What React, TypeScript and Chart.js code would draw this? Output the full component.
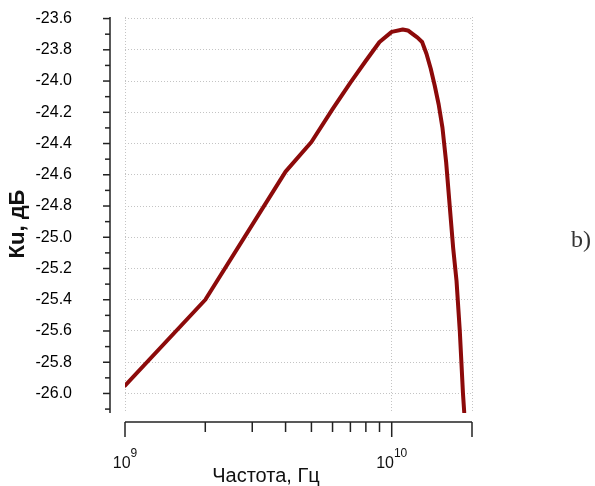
import React, { useEffect, useRef } from 'react';
import { Chart, registerables } from 'chart.js';

Chart.register(...registerables);

// Data
const freqHz = [
  1e9, 2e9, 4e9, 5e9, 6e9, 7e9, 8e9, 9e9, 1e10, 1.1e10, 1.15e10, 1.2e10, 1.25e10, 1.3e10, 1.35e10,
  1.4e10, 1.45e10, 1.5e10, 1.55e10, 1.6e10, 1.65e10, 1.7e10, 1.75e10, 1.8e10, 1.85e10, 1.87e10,
];
const kuDb = [
  -25.95, -25.4, -24.58, -24.39, -24.18, -24.01, -23.87, -23.75, -23.685, -23.67, -23.676, -23.7, -23.722, -23.75, -23.825,
  -23.92, -24.03, -24.15, -24.3, -24.52, -24.8, -25.07, -25.28, -25.6, -26.0, -26.12,
];

const yMajorTicks = [-23.6, -23.8, -24.0, -24.2, -24.4, -24.6, -24.8, -25.0, -25.2, -25.4, -25.6, -25.8, -26.0];
const yMinorTicks = [-23.7, -23.9, -24.1, -24.3, -24.5, -24.7, -24.9, -25.1, -25.3, -25.5, -25.7, -25.9, -26.1];
const xMajorTicks = [1e9, 1e10, 2e10];
const xMinorTicks = [2e9, 3e9, 4e9, 5e9, 6e9, 7e9, 8e9, 9e9];
const xLabelBase = ['10', '10', ''];
const xLabelExp = ['9', '10', ''];

const xTitle = 'Частота, Гц';
const yTitle = 'Кu, дБ';
const panelLabel = 'b)';

const FONT = "'Liberation Sans', Arial, sans-serif";

const axesPlugin = {
  id: 'offsetAxes',
  afterDraw(chart: any) {
    const ctx = chart.ctx as CanvasRenderingContext2D;
    const xs = chart.scales.x;
    const ys = chart.scales.y;
    const ca = chart.chartArea;
    ctx.save();
    ctx.strokeStyle = '#222';
    ctx.lineWidth = 1.5;

    // y axis (offset left)
    const axX = ca.left - 15;
    ctx.beginPath();
    ctx.moveTo(axX, ca.top);
    ctx.lineTo(axX, ca.bottom);
    ctx.stroke();
    yMajorTicks.forEach((v) => {
      const p = ys.getPixelForValue(v);
      ctx.beginPath();
      ctx.moveTo(axX - 7, p);
      ctx.lineTo(axX, p);
      ctx.stroke();
    });
    yMinorTicks.forEach((v) => {
      const p = ys.getPixelForValue(v);
      ctx.beginPath();
      ctx.moveTo(axX - 5, p);
      ctx.lineTo(axX, p);
      ctx.stroke();
    });

    // x axis (offset below)
    const axY = ca.bottom + 9;
    ctx.beginPath();
    ctx.moveTo(ca.left, axY);
    ctx.lineTo(ca.right, axY);
    ctx.stroke();
    xMajorTicks.forEach((v) => {
      const p = xs.getPixelForValue(v);
      ctx.beginPath();
      ctx.moveTo(p, axY);
      ctx.lineTo(p, axY + 15);
      ctx.stroke();
    });
    xMinorTicks.forEach((v) => {
      const p = xs.getPixelForValue(v);
      ctx.beginPath();
      ctx.moveTo(p, axY);
      ctx.lineTo(p, axY + 10);
      ctx.stroke();
    });

    // x tick labels with superscript
    ctx.fillStyle = '#111';
    ctx.textBaseline = 'alphabetic';
    ctx.textAlign = 'left';
    xMajorTicks.forEach((v, i) => {
      const base = xLabelBase[i];
      const exp = xLabelExp[i];
      if (!base) return;
      const p = xs.getPixelForValue(v);
      ctx.font = `16px ${FONT}`;
      const w1 = ctx.measureText(base).width;
      ctx.font = `12px ${FONT}`;
      const w2 = ctx.measureText(exp).width;
      const start = p - (w1 + w2) / 2;
      ctx.font = `16px ${FONT}`;
      ctx.fillText(base, start, axY + 46);
      ctx.font = `12px ${FONT}`;
      ctx.fillText(exp, start + w1, axY + 35);
    });

    // x title
    ctx.font = `20px ${FONT}`;
    ctx.textAlign = 'center';
    ctx.fillText(xTitle, 266, 482);

    // y title (rotated)
    ctx.save();
    ctx.translate(24, 224);
    ctx.rotate(-Math.PI / 2);
    ctx.font = `bold 22px ${FONT}`;
    ctx.textAlign = 'center';
    ctx.fillText(yTitle, 0, 0);
    ctx.restore();

    // panel label
    ctx.font = "24px 'Liberation Serif', 'Times New Roman', serif";
    ctx.fillStyle = '#333';
    ctx.textAlign = 'left';
    ctx.fillText(panelLabel, 571, 247);

    ctx.restore();
  },
};

export default function App() {
  const ref = useRef<HTMLCanvasElement>(null);

  useEffect(() => {
    if (!ref.current) return;
    const chart = new Chart(ref.current, {
      type: 'line',
      data: {
        datasets: [
          {
            data: freqHz.map((f, i) => ({ x: f, y: kuDb[i] })),
            borderColor: '#8c0a0a',
            borderWidth: 4,
            pointRadius: 0,
            tension: 0,
            borderJoinStyle: 'round',
            borderCapStyle: 'round',
            fill: false,
          },
        ],
      },
      options: {
        responsive: false,
        animation: false,
        layout: { padding: { left: 0, right: 123, top: 17, bottom: 0 } },
        plugins: { legend: { display: false }, tooltip: { enabled: false } },
        scales: {
          x: {
            type: 'logarithmic',
            min: 1e9,
            max: 2e10,
            afterBuildTicks: (s: any) => {
              s.ticks = xMajorTicks.map((v) => ({ value: v }));
            },
            afterFit: (s: any) => {
              s.height = 73;
              s.paddingLeft = 0;
              s.paddingRight = 0;
            },
            ticks: { display: false },
            grid: { color: '#c4c4c4', lineWidth: 1, drawTicks: false },
            border: { display: false, dash: [1, 2] },
          },
          y: {
            type: 'linear',
            min: -26.125,
            max: -23.59,
            afterBuildTicks: (s: any) => {
              s.ticks = yMajorTicks.map((v) => ({ value: v }));
            },
            afterFit: (s: any) => {
              s.width = 125;
              s.paddingTop = 0;
              s.paddingBottom = 0;
            },
            ticks: {
              padding: 53,
              color: '#000',
              font: { family: FONT, size: 16 },
              callback: (v: any) => Number(v).toFixed(1),
            },
            grid: { color: '#c4c4c4', lineWidth: 1, drawTicks: false },
            border: { display: false, dash: [1, 2] },
          },
        },
      },
      plugins: [axesPlugin],
    } as any);
    return () => chart.destroy();
  }, []);

  return (
    <div style={{ position: 'absolute', left: 0, top: 0, width: 595, height: 486, background: '#fff' }}>
      <canvas ref={ref} width={595} height={486} style={{ width: 595, height: 486 }} />
    </div>
  );
}
